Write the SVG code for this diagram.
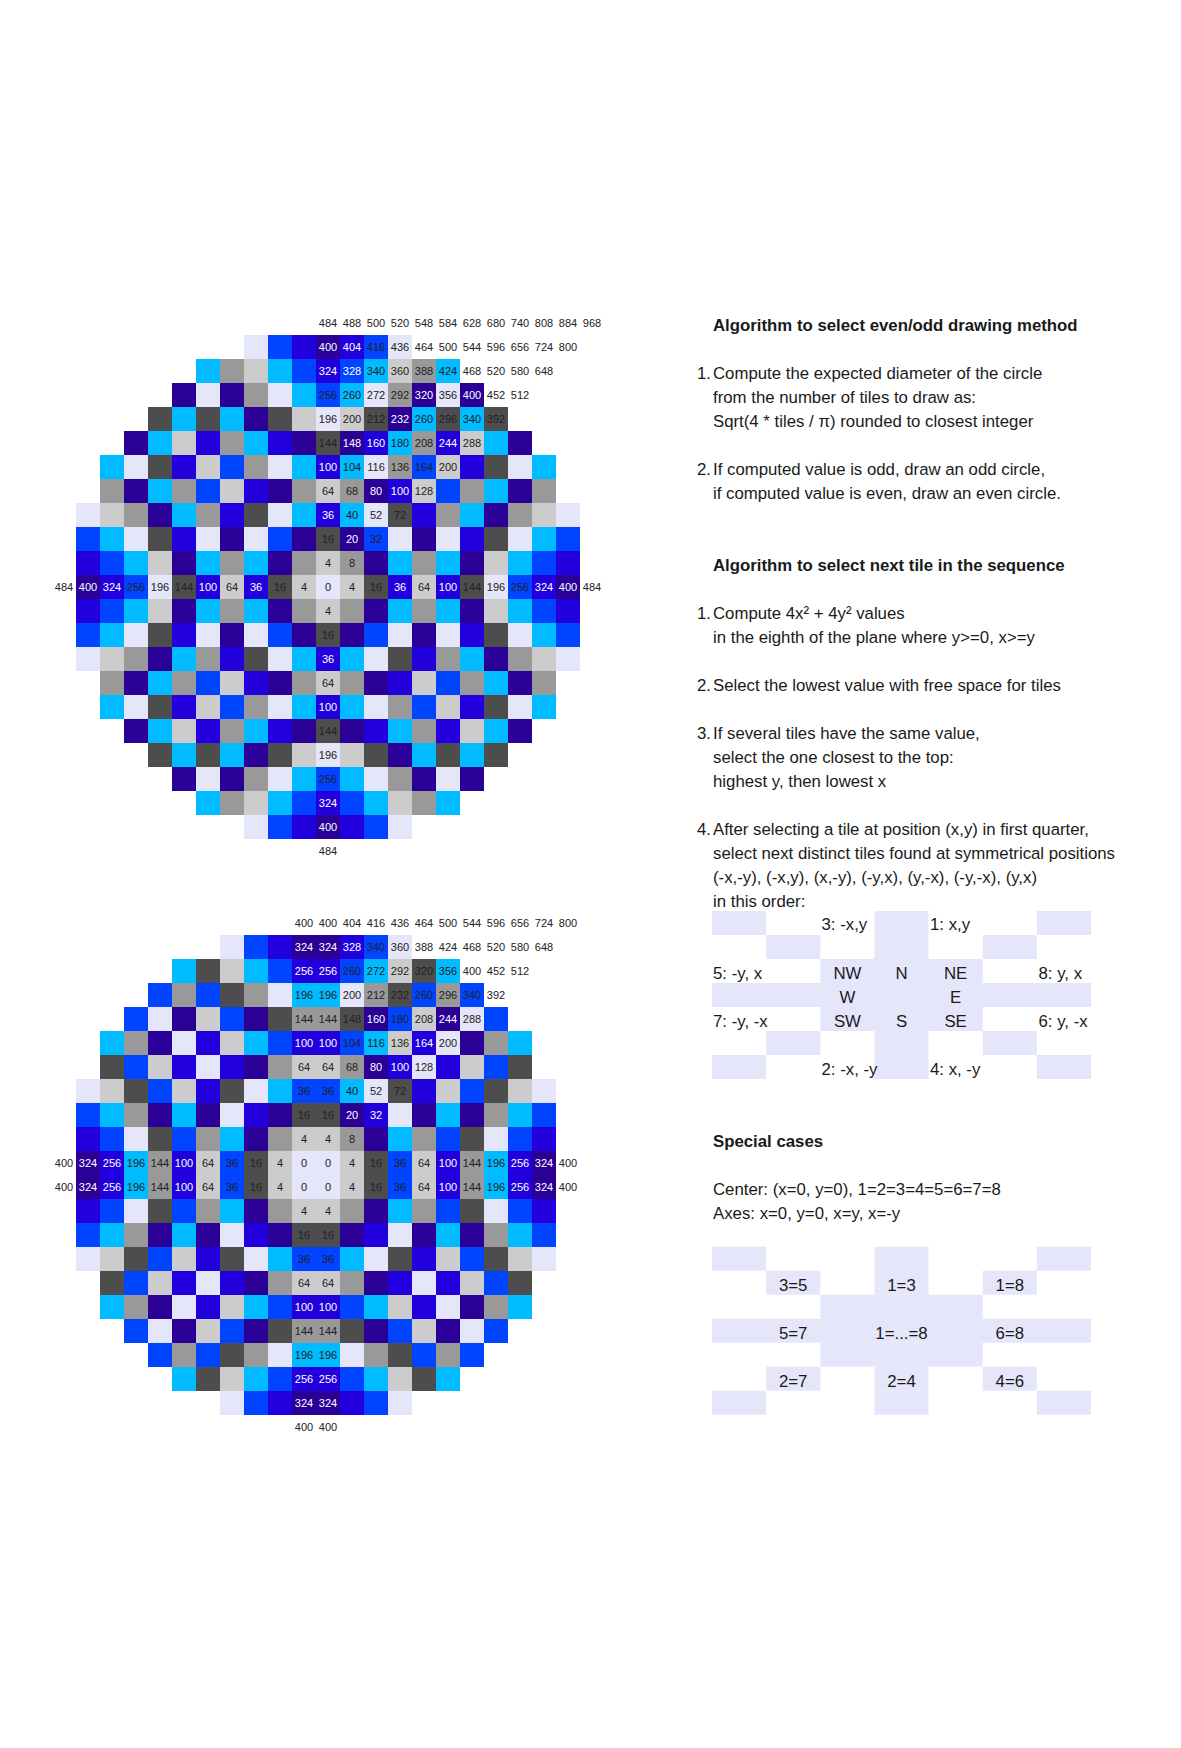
<svg xmlns="http://www.w3.org/2000/svg" width="1181" height="1748" viewBox="0 0 1181 1748">
<style>
.L{fill:#e6e6fa}.l{fill:#cccccc}.g{fill:#999999}.d{fill:#4d4d4d}.P{fill:#2a0096}.V{fill:#2200dd}.B{fill:#0044ff}.C{fill:#00bbff}
.n{font-family:"Liberation Sans",Arial,sans-serif;font-size:11px;fill:#222;text-anchor:middle}
.n .w{fill:#ffffff}
.t{font-family:"Liberation Sans",Arial,sans-serif;font-size:16.8px;fill:#1a1a1a}
.b{font-weight:bold}
.m{text-anchor:middle}
</style>
<defs>
<g id="o0"><rect x="76" width="24" height="24" class="P"/><rect x="100" width="24" height="24" class="V"/><rect x="124" width="24" height="24" class="B"/><rect x="148" width="24" height="24" class="L"/><rect x="172" width="24" height="24" class="d"/><rect x="196" width="24" height="24" class="V"/><rect x="220" width="24" height="24" class="l"/><rect x="244" width="24" height="24" class="V"/><rect x="268" width="24" height="24" class="d"/><rect x="292" width="24" height="24" class="l"/><rect x="316" width="24" height="24" class="L"/><rect x="340" width="24" height="24" class="l"/><rect x="364" width="24" height="24" class="d"/><rect x="388" width="24" height="24" class="V"/><rect x="412" width="24" height="24" class="l"/><rect x="436" width="24" height="24" class="V"/><rect x="460" width="24" height="24" class="d"/><rect x="484" width="24" height="24" class="L"/><rect x="508" width="24" height="24" class="B"/><rect x="532" width="24" height="24" class="V"/><rect x="556" width="24" height="24" class="P"/></g>
<g id="o1"><rect x="76" width="24" height="24" class="V"/><rect x="100" width="24" height="24" class="B"/><rect x="124" width="24" height="24" class="C"/><rect x="148" width="24" height="24" class="l"/><rect x="172" width="24" height="24" class="P"/><rect x="196" width="24" height="24" class="C"/><rect x="220" width="24" height="24" class="g"/><rect x="244" width="24" height="24" class="C"/><rect x="268" width="24" height="24" class="P"/><rect x="292" width="24" height="24" class="g"/><rect x="316" width="24" height="24" class="l"/><rect x="340" width="24" height="24" class="g"/><rect x="364" width="24" height="24" class="P"/><rect x="388" width="24" height="24" class="C"/><rect x="412" width="24" height="24" class="g"/><rect x="436" width="24" height="24" class="C"/><rect x="460" width="24" height="24" class="P"/><rect x="484" width="24" height="24" class="l"/><rect x="508" width="24" height="24" class="C"/><rect x="532" width="24" height="24" class="B"/><rect x="556" width="24" height="24" class="V"/></g>
<g id="o2"><rect x="76" width="24" height="24" class="B"/><rect x="100" width="24" height="24" class="C"/><rect x="124" width="24" height="24" class="L"/><rect x="148" width="24" height="24" class="d"/><rect x="172" width="24" height="24" class="V"/><rect x="196" width="24" height="24" class="L"/><rect x="220" width="24" height="24" class="P"/><rect x="244" width="24" height="24" class="L"/><rect x="268" width="24" height="24" class="B"/><rect x="292" width="24" height="24" class="P"/><rect x="316" width="24" height="24" class="d"/><rect x="340" width="24" height="24" class="P"/><rect x="364" width="24" height="24" class="B"/><rect x="388" width="24" height="24" class="L"/><rect x="412" width="24" height="24" class="P"/><rect x="436" width="24" height="24" class="L"/><rect x="460" width="24" height="24" class="V"/><rect x="484" width="24" height="24" class="d"/><rect x="508" width="24" height="24" class="L"/><rect x="532" width="24" height="24" class="C"/><rect x="556" width="24" height="24" class="B"/></g>
<g id="o3"><rect x="76" width="24" height="24" class="L"/><rect x="100" width="24" height="24" class="l"/><rect x="124" width="24" height="24" class="g"/><rect x="148" width="24" height="24" class="P"/><rect x="172" width="24" height="24" class="C"/><rect x="196" width="24" height="24" class="g"/><rect x="220" width="24" height="24" class="V"/><rect x="244" width="24" height="24" class="d"/><rect x="268" width="24" height="24" class="L"/><rect x="292" width="24" height="24" class="C"/><rect x="316" width="24" height="24" class="V"/><rect x="340" width="24" height="24" class="C"/><rect x="364" width="24" height="24" class="L"/><rect x="388" width="24" height="24" class="d"/><rect x="412" width="24" height="24" class="V"/><rect x="436" width="24" height="24" class="g"/><rect x="460" width="24" height="24" class="C"/><rect x="484" width="24" height="24" class="P"/><rect x="508" width="24" height="24" class="g"/><rect x="532" width="24" height="24" class="l"/><rect x="556" width="24" height="24" class="L"/></g>
<g id="o4"><rect x="100" width="24" height="24" class="g"/><rect x="124" width="24" height="24" class="P"/><rect x="148" width="24" height="24" class="C"/><rect x="172" width="24" height="24" class="g"/><rect x="196" width="24" height="24" class="B"/><rect x="220" width="24" height="24" class="l"/><rect x="244" width="24" height="24" class="V"/><rect x="268" width="24" height="24" class="P"/><rect x="292" width="24" height="24" class="g"/><rect x="316" width="24" height="24" class="l"/><rect x="340" width="24" height="24" class="g"/><rect x="364" width="24" height="24" class="P"/><rect x="388" width="24" height="24" class="V"/><rect x="412" width="24" height="24" class="l"/><rect x="436" width="24" height="24" class="B"/><rect x="460" width="24" height="24" class="g"/><rect x="484" width="24" height="24" class="C"/><rect x="508" width="24" height="24" class="P"/><rect x="532" width="24" height="24" class="g"/></g>
<g id="o5"><rect x="100" width="24" height="24" class="C"/><rect x="124" width="24" height="24" class="L"/><rect x="148" width="24" height="24" class="d"/><rect x="172" width="24" height="24" class="V"/><rect x="196" width="24" height="24" class="l"/><rect x="220" width="24" height="24" class="B"/><rect x="244" width="24" height="24" class="g"/><rect x="268" width="24" height="24" class="L"/><rect x="292" width="24" height="24" class="C"/><rect x="316" width="24" height="24" class="V"/><rect x="340" width="24" height="24" class="C"/><rect x="364" width="24" height="24" class="L"/><rect x="388" width="24" height="24" class="g"/><rect x="412" width="24" height="24" class="B"/><rect x="436" width="24" height="24" class="l"/><rect x="460" width="24" height="24" class="V"/><rect x="484" width="24" height="24" class="d"/><rect x="508" width="24" height="24" class="L"/><rect x="532" width="24" height="24" class="C"/></g>
<g id="o6"><rect x="124" width="24" height="24" class="P"/><rect x="148" width="24" height="24" class="C"/><rect x="172" width="24" height="24" class="l"/><rect x="196" width="24" height="24" class="V"/><rect x="220" width="24" height="24" class="g"/><rect x="244" width="24" height="24" class="C"/><rect x="268" width="24" height="24" class="V"/><rect x="292" width="24" height="24" class="P"/><rect x="316" width="24" height="24" class="d"/><rect x="340" width="24" height="24" class="P"/><rect x="364" width="24" height="24" class="V"/><rect x="388" width="24" height="24" class="C"/><rect x="412" width="24" height="24" class="g"/><rect x="436" width="24" height="24" class="V"/><rect x="460" width="24" height="24" class="l"/><rect x="484" width="24" height="24" class="C"/><rect x="508" width="24" height="24" class="P"/></g>
<g id="o7"><rect x="148" width="24" height="24" class="d"/><rect x="172" width="24" height="24" class="C"/><rect x="196" width="24" height="24" class="d"/><rect x="220" width="24" height="24" class="C"/><rect x="244" width="24" height="24" class="P"/><rect x="268" width="24" height="24" class="d"/><rect x="292" width="24" height="24" class="l"/><rect x="316" width="24" height="24" class="L"/><rect x="340" width="24" height="24" class="l"/><rect x="364" width="24" height="24" class="d"/><rect x="388" width="24" height="24" class="P"/><rect x="412" width="24" height="24" class="C"/><rect x="436" width="24" height="24" class="d"/><rect x="460" width="24" height="24" class="C"/><rect x="484" width="24" height="24" class="d"/></g>
<g id="o8"><rect x="172" width="24" height="24" class="P"/><rect x="196" width="24" height="24" class="L"/><rect x="220" width="24" height="24" class="P"/><rect x="244" width="24" height="24" class="g"/><rect x="268" width="24" height="24" class="L"/><rect x="292" width="24" height="24" class="C"/><rect x="316" width="24" height="24" class="B"/><rect x="340" width="24" height="24" class="C"/><rect x="364" width="24" height="24" class="L"/><rect x="388" width="24" height="24" class="g"/><rect x="412" width="24" height="24" class="P"/><rect x="436" width="24" height="24" class="L"/><rect x="460" width="24" height="24" class="P"/></g>
<g id="o9"><rect x="196" width="24" height="24" class="C"/><rect x="220" width="24" height="24" class="g"/><rect x="244" width="24" height="24" class="l"/><rect x="268" width="24" height="24" class="C"/><rect x="292" width="24" height="24" class="B"/><rect x="316" width="24" height="24" class="V"/><rect x="340" width="24" height="24" class="B"/><rect x="364" width="24" height="24" class="C"/><rect x="388" width="24" height="24" class="l"/><rect x="412" width="24" height="24" class="g"/><rect x="436" width="24" height="24" class="C"/></g>
<g id="o10"><rect x="244" width="24" height="24" class="L"/><rect x="268" width="24" height="24" class="B"/><rect x="292" width="24" height="24" class="V"/><rect x="316" width="24" height="24" class="P"/><rect x="340" width="24" height="24" class="V"/><rect x="364" width="24" height="24" class="B"/><rect x="388" width="24" height="24" class="L"/></g>

<g id="e0"><rect x="76" width="24" height="24" class="P"/><rect x="100" width="24" height="24" class="V"/><rect x="124" width="24" height="24" class="C"/><rect x="148" width="24" height="24" class="g"/><rect x="172" width="24" height="24" class="V"/><rect x="196" width="24" height="24" class="l"/><rect x="220" width="24" height="24" class="B"/><rect x="244" width="24" height="24" class="d"/><rect x="268" width="24" height="24" class="l"/><rect x="292" width="24" height="24" class="L"/><rect x="316" width="24" height="24" class="L"/><rect x="340" width="24" height="24" class="l"/><rect x="364" width="24" height="24" class="d"/><rect x="388" width="24" height="24" class="B"/><rect x="412" width="24" height="24" class="l"/><rect x="436" width="24" height="24" class="V"/><rect x="460" width="24" height="24" class="g"/><rect x="484" width="24" height="24" class="C"/><rect x="508" width="24" height="24" class="V"/><rect x="532" width="24" height="24" class="P"/></g>
<g id="e1"><rect x="76" width="24" height="24" class="V"/><rect x="100" width="24" height="24" class="B"/><rect x="124" width="24" height="24" class="L"/><rect x="148" width="24" height="24" class="d"/><rect x="172" width="24" height="24" class="B"/><rect x="196" width="24" height="24" class="g"/><rect x="220" width="24" height="24" class="C"/><rect x="244" width="24" height="24" class="P"/><rect x="268" width="24" height="24" class="g"/><rect x="292" width="24" height="24" class="l"/><rect x="316" width="24" height="24" class="l"/><rect x="340" width="24" height="24" class="g"/><rect x="364" width="24" height="24" class="P"/><rect x="388" width="24" height="24" class="C"/><rect x="412" width="24" height="24" class="g"/><rect x="436" width="24" height="24" class="B"/><rect x="460" width="24" height="24" class="d"/><rect x="484" width="24" height="24" class="L"/><rect x="508" width="24" height="24" class="B"/><rect x="532" width="24" height="24" class="V"/></g>
<g id="e2"><rect x="76" width="24" height="24" class="B"/><rect x="100" width="24" height="24" class="C"/><rect x="124" width="24" height="24" class="g"/><rect x="148" width="24" height="24" class="P"/><rect x="172" width="24" height="24" class="C"/><rect x="196" width="24" height="24" class="P"/><rect x="220" width="24" height="24" class="L"/><rect x="244" width="24" height="24" class="V"/><rect x="268" width="24" height="24" class="P"/><rect x="292" width="24" height="24" class="d"/><rect x="316" width="24" height="24" class="d"/><rect x="340" width="24" height="24" class="P"/><rect x="364" width="24" height="24" class="V"/><rect x="388" width="24" height="24" class="L"/><rect x="412" width="24" height="24" class="P"/><rect x="436" width="24" height="24" class="C"/><rect x="460" width="24" height="24" class="P"/><rect x="484" width="24" height="24" class="g"/><rect x="508" width="24" height="24" class="C"/><rect x="532" width="24" height="24" class="B"/></g>
<g id="e3"><rect x="76" width="24" height="24" class="L"/><rect x="100" width="24" height="24" class="l"/><rect x="124" width="24" height="24" class="d"/><rect x="148" width="24" height="24" class="B"/><rect x="172" width="24" height="24" class="l"/><rect x="196" width="24" height="24" class="V"/><rect x="220" width="24" height="24" class="d"/><rect x="244" width="24" height="24" class="L"/><rect x="268" width="24" height="24" class="C"/><rect x="292" width="24" height="24" class="B"/><rect x="316" width="24" height="24" class="B"/><rect x="340" width="24" height="24" class="C"/><rect x="364" width="24" height="24" class="L"/><rect x="388" width="24" height="24" class="d"/><rect x="412" width="24" height="24" class="V"/><rect x="436" width="24" height="24" class="l"/><rect x="460" width="24" height="24" class="B"/><rect x="484" width="24" height="24" class="d"/><rect x="508" width="24" height="24" class="l"/><rect x="532" width="24" height="24" class="L"/></g>
<g id="e4"><rect x="100" width="24" height="24" class="d"/><rect x="124" width="24" height="24" class="B"/><rect x="148" width="24" height="24" class="l"/><rect x="172" width="24" height="24" class="V"/><rect x="196" width="24" height="24" class="L"/><rect x="220" width="24" height="24" class="V"/><rect x="244" width="24" height="24" class="P"/><rect x="268" width="24" height="24" class="g"/><rect x="292" width="24" height="24" class="l"/><rect x="316" width="24" height="24" class="l"/><rect x="340" width="24" height="24" class="g"/><rect x="364" width="24" height="24" class="P"/><rect x="388" width="24" height="24" class="V"/><rect x="412" width="24" height="24" class="L"/><rect x="436" width="24" height="24" class="V"/><rect x="460" width="24" height="24" class="l"/><rect x="484" width="24" height="24" class="B"/><rect x="508" width="24" height="24" class="d"/></g>
<g id="e5"><rect x="100" width="24" height="24" class="C"/><rect x="124" width="24" height="24" class="g"/><rect x="148" width="24" height="24" class="P"/><rect x="172" width="24" height="24" class="L"/><rect x="196" width="24" height="24" class="V"/><rect x="220" width="24" height="24" class="l"/><rect x="244" width="24" height="24" class="C"/><rect x="268" width="24" height="24" class="B"/><rect x="292" width="24" height="24" class="V"/><rect x="316" width="24" height="24" class="V"/><rect x="340" width="24" height="24" class="B"/><rect x="364" width="24" height="24" class="C"/><rect x="388" width="24" height="24" class="l"/><rect x="412" width="24" height="24" class="V"/><rect x="436" width="24" height="24" class="L"/><rect x="460" width="24" height="24" class="P"/><rect x="484" width="24" height="24" class="g"/><rect x="508" width="24" height="24" class="C"/></g>
<g id="e6"><rect x="124" width="24" height="24" class="B"/><rect x="148" width="24" height="24" class="L"/><rect x="172" width="24" height="24" class="P"/><rect x="196" width="24" height="24" class="l"/><rect x="220" width="24" height="24" class="B"/><rect x="244" width="24" height="24" class="P"/><rect x="268" width="24" height="24" class="d"/><rect x="292" width="24" height="24" class="g"/><rect x="316" width="24" height="24" class="g"/><rect x="340" width="24" height="24" class="d"/><rect x="364" width="24" height="24" class="P"/><rect x="388" width="24" height="24" class="B"/><rect x="412" width="24" height="24" class="l"/><rect x="436" width="24" height="24" class="P"/><rect x="460" width="24" height="24" class="L"/><rect x="484" width="24" height="24" class="B"/></g>
<g id="e7"><rect x="148" width="24" height="24" class="B"/><rect x="172" width="24" height="24" class="g"/><rect x="196" width="24" height="24" class="B"/><rect x="220" width="24" height="24" class="d"/><rect x="244" width="24" height="24" class="g"/><rect x="268" width="24" height="24" class="L"/><rect x="292" width="24" height="24" class="C"/><rect x="316" width="24" height="24" class="C"/><rect x="340" width="24" height="24" class="L"/><rect x="364" width="24" height="24" class="g"/><rect x="388" width="24" height="24" class="d"/><rect x="412" width="24" height="24" class="B"/><rect x="436" width="24" height="24" class="g"/><rect x="460" width="24" height="24" class="B"/></g>
<g id="e8"><rect x="172" width="24" height="24" class="C"/><rect x="196" width="24" height="24" class="d"/><rect x="220" width="24" height="24" class="l"/><rect x="244" width="24" height="24" class="C"/><rect x="268" width="24" height="24" class="B"/><rect x="292" width="24" height="24" class="V"/><rect x="316" width="24" height="24" class="V"/><rect x="340" width="24" height="24" class="B"/><rect x="364" width="24" height="24" class="C"/><rect x="388" width="24" height="24" class="l"/><rect x="412" width="24" height="24" class="d"/><rect x="436" width="24" height="24" class="C"/></g>
<g id="e9"><rect x="220" width="24" height="24" class="L"/><rect x="244" width="24" height="24" class="B"/><rect x="268" width="24" height="24" class="V"/><rect x="292" width="24" height="24" class="P"/><rect x="316" width="24" height="24" class="P"/><rect x="340" width="24" height="24" class="V"/><rect x="364" width="24" height="24" class="B"/><rect x="388" width="24" height="24" class="L"/></g>

<g id="sym" fill="#e6e6fa">
<rect x="712" y="0" width="54.14" height="24"/><rect x="874.43" y="0" width="54.14" height="24"/><rect x="1036.86" y="0" width="54.14" height="24"/>
<rect x="766.14" y="24" width="54.14" height="24"/><rect x="874.43" y="24" width="54.14" height="24"/><rect x="982.71" y="24" width="54.14" height="24"/>
<rect x="820.29" y="48" width="162.43" height="24"/>
<rect x="712" y="72" width="379" height="24"/>
<rect x="820.29" y="96" width="162.43" height="24"/>
<rect x="766.14" y="120" width="54.14" height="24"/><rect x="874.43" y="120" width="54.14" height="24"/><rect x="982.71" y="120" width="54.14" height="24"/>
<rect x="712" y="144" width="54.14" height="24"/><rect x="874.43" y="144" width="54.14" height="24"/><rect x="1036.86" y="144" width="54.14" height="24"/>
</g>
</defs>

<rect width="1181" height="1748" fill="#ffffff"/>

<g id="odd-circle">
<g id="odd-tiles">
<use href="#o10" y="335"/><use href="#o9" y="359"/><use href="#o8" y="383"/><use href="#o7" y="407"/><use href="#o6" y="431"/><use href="#o5" y="455"/><use href="#o4" y="479"/><use href="#o3" y="503"/><use href="#o2" y="527"/><use href="#o1" y="551"/>
<use href="#o0" y="575"/>
<use href="#o1" y="599"/><use href="#o2" y="623"/><use href="#o3" y="647"/><use href="#o4" y="671"/><use href="#o5" y="695"/><use href="#o6" y="719"/><use href="#o7" y="743"/><use href="#o8" y="767"/><use href="#o9" y="791"/><use href="#o10" y="815"/>
</g>
<g id="odd-labels" class="n">
<text y="327"><tspan x="328">484</tspan><tspan x="352">488</tspan><tspan x="376">500</tspan><tspan x="400">520</tspan><tspan x="424">548</tspan><tspan x="448">584</tspan><tspan x="472">628</tspan><tspan x="496">680</tspan><tspan x="520">740</tspan><tspan x="544">808</tspan><tspan x="568">884</tspan><tspan x="592">968</tspan></text>
<text y="351"><tspan x="328" class="w">400</tspan><tspan x="352" class="w">404</tspan><tspan x="376">416</tspan><tspan x="400">436</tspan><tspan x="424">464</tspan><tspan x="448">500</tspan><tspan x="472">544</tspan><tspan x="496">596</tspan><tspan x="520">656</tspan><tspan x="544">724</tspan><tspan x="568">800</tspan></text>
<text y="375"><tspan x="328" class="w">324</tspan><tspan x="352" class="w">328</tspan><tspan x="376">340</tspan><tspan x="400">360</tspan><tspan x="424">388</tspan><tspan x="448">424</tspan><tspan x="472">468</tspan><tspan x="496">520</tspan><tspan x="520">580</tspan><tspan x="544">648</tspan></text>
<text y="399"><tspan x="328">256</tspan><tspan x="352">260</tspan><tspan x="376">272</tspan><tspan x="400">292</tspan><tspan x="424" class="w">320</tspan><tspan x="448">356</tspan><tspan x="472" class="w">400</tspan><tspan x="496">452</tspan><tspan x="520">512</tspan></text>
<text y="423"><tspan x="328">196</tspan><tspan x="352">200</tspan><tspan x="376">212</tspan><tspan x="400" class="w">232</tspan><tspan x="424">260</tspan><tspan x="448">296</tspan><tspan x="472">340</tspan><tspan x="496">392</tspan></text>
<text y="447"><tspan x="328">144</tspan><tspan x="352" class="w">148</tspan><tspan x="376" class="w">160</tspan><tspan x="400">180</tspan><tspan x="424">208</tspan><tspan x="448" class="w">244</tspan><tspan x="472">288</tspan></text>
<text y="471"><tspan x="328" class="w">100</tspan><tspan x="352">104</tspan><tspan x="376">116</tspan><tspan x="400">136</tspan><tspan x="424">164</tspan><tspan x="448">200</tspan></text>
<text y="495"><tspan x="328">64</tspan><tspan x="352">68</tspan><tspan x="376" class="w">80</tspan><tspan x="400" class="w">100</tspan><tspan x="424">128</tspan></text>
<text y="519"><tspan x="328" class="w">36</tspan><tspan x="352">40</tspan><tspan x="376">52</tspan><tspan x="400">72</tspan></text>
<text y="543"><tspan x="328">16</tspan><tspan x="352" class="w">20</tspan><tspan x="376">32</tspan></text>
<text y="567"><tspan x="328">4</tspan><tspan x="352">8</tspan></text>
<text y="591"><tspan x="64">484</tspan><tspan x="88" class="w">400</tspan><tspan x="112" class="w">324</tspan><tspan x="136">256</tspan><tspan x="160">196</tspan><tspan x="184">144</tspan><tspan x="208" class="w">100</tspan><tspan x="232">64</tspan><tspan x="256" class="w">36</tspan><tspan x="280">16</tspan><tspan x="304">4</tspan><tspan x="328">0</tspan><tspan x="352">4</tspan><tspan x="376">16</tspan><tspan x="400" class="w">36</tspan><tspan x="424">64</tspan><tspan x="448" class="w">100</tspan><tspan x="472">144</tspan><tspan x="496">196</tspan><tspan x="520">256</tspan><tspan x="544" class="w">324</tspan><tspan x="568" class="w">400</tspan><tspan x="592">484</tspan></text>
<text x="328" y="615">4</text><text x="328" y="639">16</text><text x="328" y="663" class="w">36</text><text x="328" y="687">64</text><text x="328" y="711" class="w">100</text><text x="328" y="735">144</text><text x="328" y="759">196</text><text x="328" y="783">256</text><text x="328" y="807" class="w">324</text><text x="328" y="831" class="w">400</text><text x="328" y="855">484</text>
</g>
</g>

<g id="even-circle">
<g id="even-tiles">
<use href="#e9" y="935"/><use href="#e8" y="959"/><use href="#e7" y="983"/><use href="#e6" y="1007"/><use href="#e5" y="1031"/><use href="#e4" y="1055"/><use href="#e3" y="1079"/><use href="#e2" y="1103"/><use href="#e1" y="1127"/><use href="#e0" y="1151"/>
<use href="#e0" y="1175"/><use href="#e1" y="1199"/><use href="#e2" y="1223"/><use href="#e3" y="1247"/><use href="#e4" y="1271"/><use href="#e5" y="1295"/><use href="#e6" y="1319"/><use href="#e7" y="1343"/><use href="#e8" y="1367"/><use href="#e9" y="1391"/>
</g>
<g id="even-labels" class="n">
<text y="927"><tspan x="304">400</tspan><tspan x="328">400</tspan><tspan x="352">404</tspan><tspan x="376">416</tspan><tspan x="400">436</tspan><tspan x="424">464</tspan><tspan x="448">500</tspan><tspan x="472">544</tspan><tspan x="496">596</tspan><tspan x="520">656</tspan><tspan x="544">724</tspan><tspan x="568">800</tspan></text>
<text y="951"><tspan x="304" class="w">324</tspan><tspan x="328" class="w">324</tspan><tspan x="352" class="w">328</tspan><tspan x="376">340</tspan><tspan x="400">360</tspan><tspan x="424">388</tspan><tspan x="448">424</tspan><tspan x="472">468</tspan><tspan x="496">520</tspan><tspan x="520">580</tspan><tspan x="544">648</tspan></text>
<text y="975"><tspan x="304" class="w">256</tspan><tspan x="328" class="w">256</tspan><tspan x="352">260</tspan><tspan x="376">272</tspan><tspan x="400">292</tspan><tspan x="424">320</tspan><tspan x="448">356</tspan><tspan x="472">400</tspan><tspan x="496">452</tspan><tspan x="520">512</tspan></text>
<text y="999"><tspan x="304">196</tspan><tspan x="328">196</tspan><tspan x="352">200</tspan><tspan x="376">212</tspan><tspan x="400">232</tspan><tspan x="424">260</tspan><tspan x="448">296</tspan><tspan x="472">340</tspan><tspan x="496">392</tspan></text>
<text y="1023"><tspan x="304">144</tspan><tspan x="328">144</tspan><tspan x="352">148</tspan><tspan x="376" class="w">160</tspan><tspan x="400">180</tspan><tspan x="424">208</tspan><tspan x="448" class="w">244</tspan><tspan x="472">288</tspan></text>
<text y="1047"><tspan x="304" class="w">100</tspan><tspan x="328" class="w">100</tspan><tspan x="352">104</tspan><tspan x="376">116</tspan><tspan x="400">136</tspan><tspan x="424" class="w">164</tspan><tspan x="448">200</tspan></text>
<text y="1071"><tspan x="304">64</tspan><tspan x="328">64</tspan><tspan x="352">68</tspan><tspan x="376" class="w">80</tspan><tspan x="400" class="w">100</tspan><tspan x="424">128</tspan></text>
<text y="1095"><tspan x="304">36</tspan><tspan x="328">36</tspan><tspan x="352">40</tspan><tspan x="376">52</tspan><tspan x="400">72</tspan></text>
<text y="1119"><tspan x="304">16</tspan><tspan x="328">16</tspan><tspan x="352" class="w">20</tspan><tspan x="376" class="w">32</tspan></text>
<text y="1143"><tspan x="304">4</tspan><tspan x="328">4</tspan><tspan x="352">8</tspan></text>
<text y="1167"><tspan x="64">400</tspan><tspan x="88" class="w">324</tspan><tspan x="112" class="w">256</tspan><tspan x="136">196</tspan><tspan x="160">144</tspan><tspan x="184" class="w">100</tspan><tspan x="208">64</tspan><tspan x="232">36</tspan><tspan x="256">16</tspan><tspan x="280">4</tspan><tspan x="304">0</tspan><tspan x="328">0</tspan><tspan x="352">4</tspan><tspan x="376">16</tspan><tspan x="400">36</tspan><tspan x="424">64</tspan><tspan x="448" class="w">100</tspan><tspan x="472">144</tspan><tspan x="496">196</tspan><tspan x="520" class="w">256</tspan><tspan x="544" class="w">324</tspan><tspan x="568">400</tspan></text>
<text y="1191"><tspan x="64">400</tspan><tspan x="88" class="w">324</tspan><tspan x="112" class="w">256</tspan><tspan x="136">196</tspan><tspan x="160">144</tspan><tspan x="184" class="w">100</tspan><tspan x="208">64</tspan><tspan x="232">36</tspan><tspan x="256">16</tspan><tspan x="280">4</tspan><tspan x="304">0</tspan><tspan x="328">0</tspan><tspan x="352">4</tspan><tspan x="376">16</tspan><tspan x="400">36</tspan><tspan x="424">64</tspan><tspan x="448" class="w">100</tspan><tspan x="472">144</tspan><tspan x="496">196</tspan><tspan x="520" class="w">256</tspan><tspan x="544" class="w">324</tspan><tspan x="568">400</tspan></text>
<text y="1215"><tspan x="304">4</tspan><tspan x="328">4</tspan></text>
<text y="1239"><tspan x="304">16</tspan><tspan x="328">16</tspan></text>
<text y="1263"><tspan x="304">36</tspan><tspan x="328">36</tspan></text>
<text y="1287"><tspan x="304">64</tspan><tspan x="328">64</tspan></text>
<text y="1311" class="w"><tspan x="304">100</tspan><tspan x="328">100</tspan></text>
<text y="1335"><tspan x="304">144</tspan><tspan x="328">144</tspan></text>
<text y="1359"><tspan x="304">196</tspan><tspan x="328">196</tspan></text>
<text y="1383" class="w"><tspan x="304">256</tspan><tspan x="328">256</tspan></text>
<text y="1407" class="w"><tspan x="304">324</tspan><tspan x="328">324</tspan></text>
<text y="1431"><tspan x="304">400</tspan><tspan x="328">400</tspan></text>
</g>
</g>

<g id="even-odd-method" class="t">
<text x="713" y="330.5" class="b">Algorithm to select even/odd drawing method</text>
<text x="697" y="379">1.</text><text x="713" y="379">Compute the expected diameter of the circle</text>
<text x="713" y="403">from the number of tiles to draw as:</text>
<text x="713" y="427">Sqrt(4 * tiles / π) rounded to closest integer</text>
<text x="697" y="475">2.</text><text x="713" y="475">If computed value is odd, draw an odd circle,</text>
<text x="713" y="499">if computed value is even, draw an even circle.</text>
</g>

<g id="next-tile" class="t">
<text x="713" y="571" class="b">Algorithm to select next tile in the sequence</text>
<text x="697" y="619">1.</text><text x="713" y="619">Compute 4x² + 4y² values</text>
<text x="713" y="643">in the eighth of the plane where y&gt;=0, x&gt;=y</text>
<text x="697" y="691">2.</text><text x="713" y="691">Select the lowest value with free space for tiles</text>
<text x="697" y="739">3.</text><text x="713" y="739">If several tiles have the same value,</text>
<text x="713" y="763">select the one closest to the top:</text>
<text x="713" y="787">highest y, then lowest x</text>
<text x="697" y="835">4.</text><text x="713" y="835">After selecting a tile at position (x,y) in first quarter,</text>
<text x="713" y="859">select next distinct tiles found at symmetrical positions</text>
<text x="713" y="883">(-x,-y), (-x,y), (x,-y), (-y,x), (y,-x), (-y,-x), (y,x)</text>
<text x="713" y="907">in this order:</text>
</g>

<g id="symmetry-order">
<use href="#sym" y="911"/>
<g class="t">
<text x="821.5" y="930">3: -x,y</text><text x="930" y="930">1: x,y</text>
<text x="713" y="979">5: -y, x</text><text x="847.4" y="979" class="m">NW</text><text x="901.5" y="979" class="m">N</text><text x="955.6" y="979" class="m">NE</text><text x="1038.5" y="979">8: y, x</text>
<text x="847.4" y="1003" class="m">W</text><text x="955.6" y="1003" class="m">E</text>
<text x="713" y="1027">7: -y, -x</text><text x="847.4" y="1027" class="m">SW</text><text x="901.5" y="1027" class="m">S</text><text x="955.6" y="1027" class="m">SE</text><text x="1038.5" y="1027">6: y, -x</text>
<text x="821.5" y="1075">2: -x, -y</text><text x="930" y="1075">4: x, -y</text>
</g>
</g>

<g id="special-cases" class="t">
<text x="713" y="1146.5" class="b">Special cases</text>
<text x="713" y="1195">Center: (x=0, y=0), 1=2=3=4=5=6=7=8</text>
<text x="713" y="1219">Axes: x=0, y=0, x=y, x=-y</text>
</g>

<g id="special-diagram">
<use href="#sym" y="1246.7"/>
<g class="t m">
<text x="793.2" y="1290.7">3=5</text><text x="901.5" y="1290.7">1=3</text><text x="1009.8" y="1290.7">1=8</text>
<text x="793.2" y="1338.7">5=7</text><text x="901.5" y="1338.7">1=...=8</text><text x="1009.8" y="1338.7">6=8</text>
<text x="793.2" y="1386.7">2=7</text><text x="901.5" y="1386.7">2=4</text><text x="1009.8" y="1386.7">4=6</text>
</g>
</g>
</svg>
